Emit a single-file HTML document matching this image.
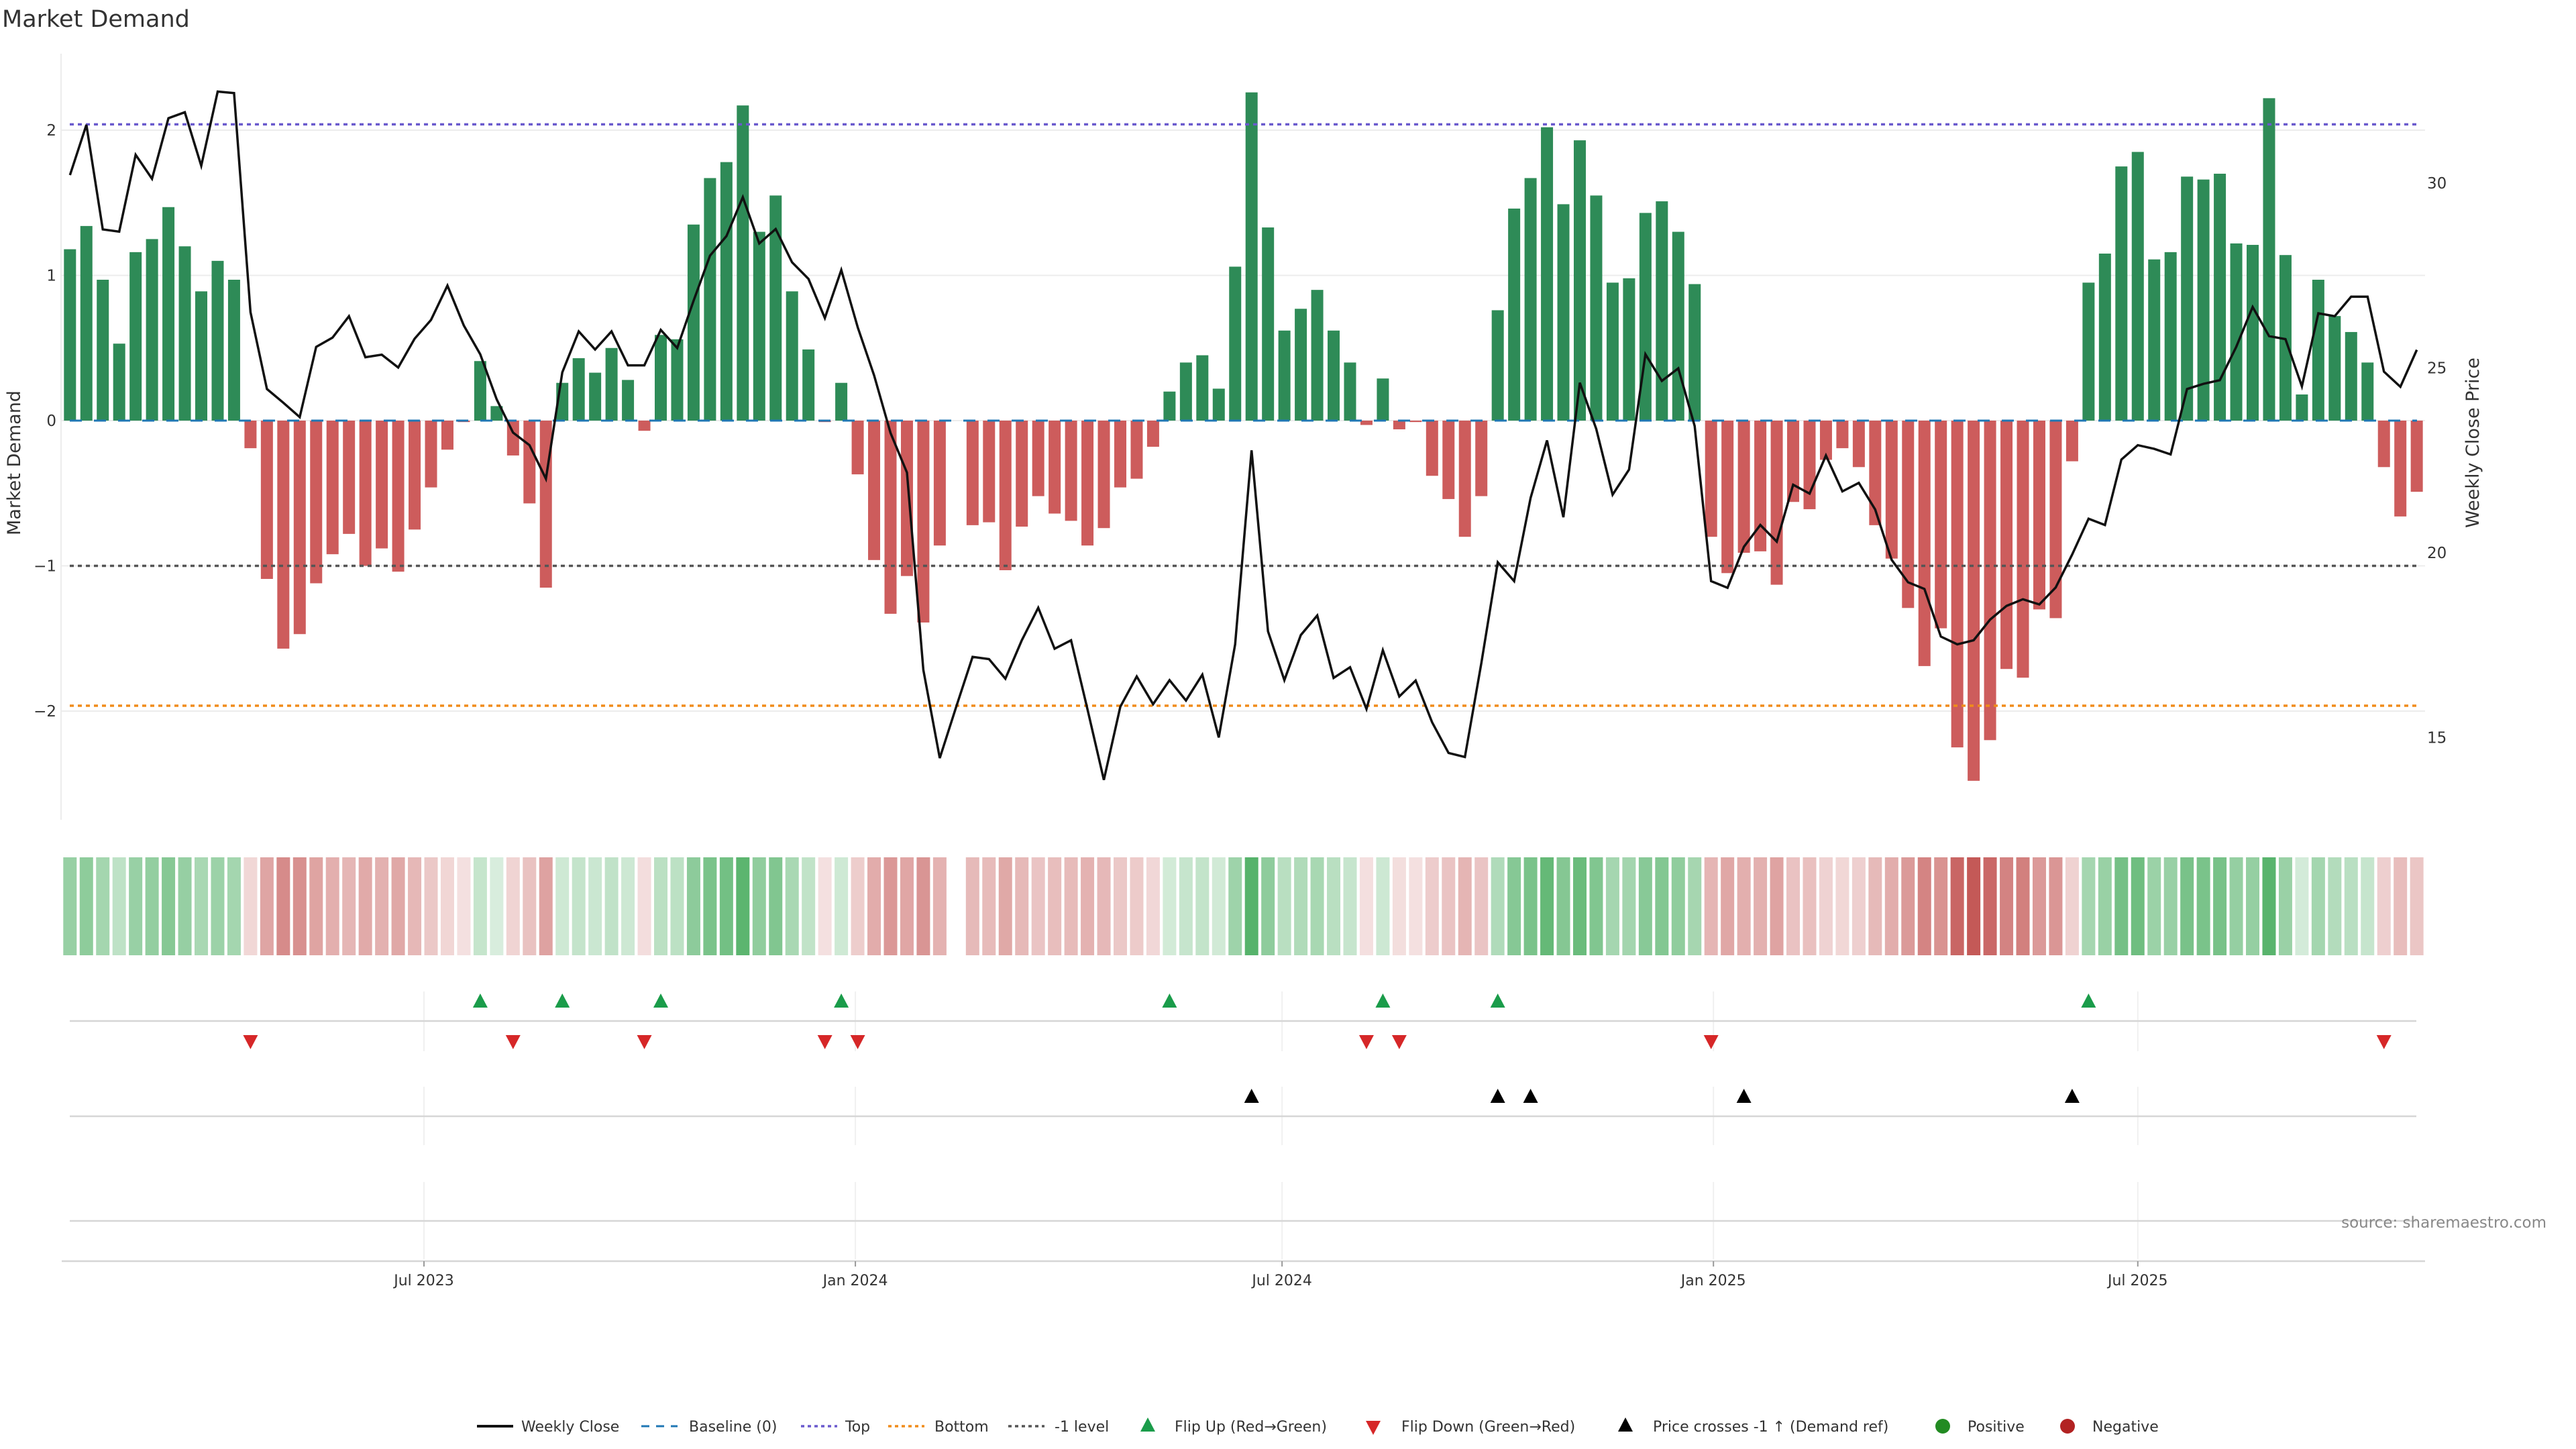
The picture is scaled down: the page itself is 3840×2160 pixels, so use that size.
<!DOCTYPE html>
<html><head><meta charset="utf-8"><title>Market Demand</title>
<style>
html,body{margin:0;padding:0;background:#fff;}
svg{display:block;font-family:"DejaVu Sans","Liberation Sans",sans-serif;}
</style></head>
<body>
<svg id="chart" width="3840" height="2160" viewBox="0 0 3840 2160" xmlns="http://www.w3.org/2000/svg">
<text x="3" y="40" font-size="35" fill="#333">Market Demand</text>
<g id="grid"></g>
<g id="bars"></g>
<g id="refs"></g>
<g id="price"></g>
<g id="heat"></g>
<g id="panels"></g>
<g id="axes"></g>
<text x="30" y="690" font-size="27" fill="#333" text-anchor="middle" transform="rotate(-90 30 690)">Market Demand</text>
<text x="3695" y="660" font-size="27" fill="#333" text-anchor="middle" transform="rotate(-90 3695 660)">Weekly Close Price</text>
<text x="3796" y="1830" font-size="23" fill="#888" text-anchor="end">source: sharemaestro.com</text>
<g id="legend"></g>
</svg>
<script>
const demand = [1.18,1.34,0.97,0.53,1.16,1.25,1.47,1.20,0.89,1.10,0.97,-0.19,-1.09,-1.57,-1.47,-1.12,-0.92,-0.78,-1.00,-0.88,-1.04,-0.75,-0.46,-0.20,-0.01,0.41,0.10,-0.24,-0.57,-1.15,0.26,0.43,0.33,0.50,0.28,-0.07,0.59,0.56,1.35,1.67,1.78,2.17,1.30,1.55,0.89,0.49,-0.01,0.26,-0.37,-0.96,-1.33,-1.07,-1.39,-0.86,null,-0.72,-0.70,-1.03,-0.73,-0.52,-0.64,-0.69,-0.86,-0.74,-0.46,-0.40,-0.18,0.20,0.40,0.45,0.22,1.06,2.26,1.33,0.62,0.77,0.90,0.62,0.40,-0.03,0.29,-0.06,-0.01,-0.38,-0.54,-0.80,-0.52,0.76,1.46,1.67,2.02,1.49,1.93,1.55,0.95,0.98,1.43,1.51,1.30,0.94,-0.80,-1.05,-0.91,-0.90,-1.13,-0.56,-0.61,-0.27,-0.19,-0.32,-0.72,-0.95,-1.29,-1.69,-1.43,-2.25,-2.48,-2.20,-1.71,-1.77,-1.30,-1.36,-0.28,0.95,1.15,1.75,1.85,1.11,1.16,1.68,1.66,1.70,1.22,1.21,2.22,1.14,0.18,0.97,0.72,0.61,0.40,-0.32,-0.66,-0.49];
const price = [30.22,31.58,28.75,28.69,30.77,30.12,31.76,31.92,30.47,32.48,32.44,26.51,24.43,24.06,23.67,25.57,25.82,26.40,25.29,25.36,25.01,25.79,26.30,27.23,26.15,25.37,24.15,23.25,22.91,22.00,24.88,25.99,25.50,25.99,25.07,25.07,26.03,25.54,26.82,28.04,28.57,29.62,28.37,28.76,27.86,27.41,26.35,27.65,26.10,24.80,23.24,22.17,16.83,14.44,15.83,17.18,17.12,16.59,17.63,18.51,17.40,17.63,15.76,13.85,15.83,16.65,15.90,16.55,16.00,16.70,15.00,17.52,22.77,17.87,16.55,17.77,18.30,16.61,16.90,15.77,17.36,16.11,16.54,15.41,14.58,14.47,17.01,19.74,19.23,21.48,23.04,20.96,24.60,23.35,21.57,22.25,25.37,24.65,24.99,23.43,19.23,19.05,20.16,20.75,20.30,21.84,21.60,22.63,21.66,21.89,21.17,19.81,19.20,19.02,17.73,17.52,17.63,18.19,18.56,18.74,18.60,19.06,19.95,20.92,20.75,22.52,22.91,22.81,22.66,24.43,24.57,24.67,25.57,26.65,25.86,25.78,24.50,26.48,26.40,26.93,26.93,24.90,24.49,25.49];
const flipUp = [25,30,36,47,67,80,87,123];
const flipDown = [11,27,35,46,48,79,81,100,141];
const priceCross = [72,87,89,102,122];
const refLevels = [2.04,-1.963,-1.0];
const leftTicks = [-2,-1,0,1,2];
const rightTicks = [15,20,25,30];
const dateTicks = ["2023-07-01","2024-01-01","2024-07-01","2025-01-01","2025-07-01"];
const dateLabels = ["Jul 2023","Jan 2024","Jul 2024","Jan 2025","Jul 2025"];
const startDate = "2023-01-31";

const NS="http://www.w3.org/2000/svg";
function mk(tag,attrs,parent){const e=document.createElementNS(NS,tag);for(const k in attrs)e.setAttribute(k,attrs[k]);parent.appendChild(e);return e;}
const X0=104.3, DX=24.464;
const xi=i=>X0+i*DX;
const yv=v=>627-v*216.5;
const yp=p=>548.5-(p-25)*55.08;
const xd=d=>X0+((new Date(d)-new Date(startDate))/86400000)/7*DX;
const G=id=>document.getElementById(id);

// grid
const grid=G('grid');
leftTicks.forEach(t=>{
  const l=mk('line',{x1:91,x2:3615,y1:yv(t),y2:yv(t),stroke:'#ececec','stroke-width':2},grid);
  
  
});
const sp=mk('line',{x1:91,x2:91,y1:80,y2:1222,stroke:'#ececec','stroke-width':2},grid);



// bars
const bars=G('bars');
demand.forEach((v,i)=>{
  if(v===null)return;
  const y=Math.min(yv(v),yv(0)), h=Math.abs(yv(v)-yv(0));
  const r=mk('rect',{x:xi(i)-9,y:y,width:18,height:Math.max(h,0.5),fill:v>=0?'#2e8b57':'#cd5c5c'},bars);
  
  
});

// reference lines
const refs=G('refs');
const b=mk('line',{x1:104,x2:3603,y1:yv(0),y2:yv(0),stroke:'#1f77b4','stroke-width':3,'stroke-dasharray':'18 18'},refs);


const refColors=['#6a5acd','#f08c1a','#555'];
const refNames=['top-line','bottom-line','minus-one-line'];
refLevels.forEach((v,k)=>{
  const l=mk('line',{x1:104,x2:3603,y1:yv(v),y2:yv(v),stroke:refColors[k],'stroke-width':3.5,'stroke-dasharray':'6 6'},refs);
  
  
});

// price line
const pts=price.map((p,i)=>xi(i).toFixed(1)+','+yp(p).toFixed(1)).join(' ');
const pl=mk('polyline',{points:pts,fill:'none',stroke:'#111','stroke-width':3.5,'stroke-linejoin':'miter'},G('price'));



// heatmap strip
const heat=G('heat');
demand.forEach((v,i)=>{
  if(v===null)return;
  const a=Math.min(1,0.18+0.82*Math.abs(v)/2.5);
  const base=v>=0?[72,172,94]:[196,88,86];
  const c=base.map(ch=>Math.round(255-(255-ch)*a));
  const r=mk('rect',{x:xi(i)-10,y:1278,width:20,height:146,fill:'rgb('+c.join(',')+')'},heat);
  
  
});

// lower panels
const pan=G('panels');
[[1478,1567],[1620,1707],[1762,1877]].forEach(([a,bb])=>{
  dateTicks.forEach(d=>{
    const l=mk('line',{x1:xd(d),x2:xd(d),y1:a,y2:bb,stroke:'#f0f0f0','stroke-width':2},pan);
    
    
  });
});
[1522,1664,1820].forEach(y=>{
  const l=mk('line',{x1:104,x2:3602,y1:y,y2:y,stroke:'#d6d6d6','stroke-width':2.5},pan);
  
  
});
function tri(x,y,up,col,name){
  const p=up?`${x},${y-13} ${x-11},${y+8} ${x+11},${y+8}`:`${x},${y+13} ${x-11},${y-8} ${x+11},${y-8}`;
  const t=mk('polygon',{points:p,fill:col},pan);
  
  
}
flipUp.forEach(i=>tri(xi(i),1494,true,'#1a9c4a','flip-up-marker'));
flipDown.forEach(i=>tri(xi(i),1551,false,'#d62728','flip-down-marker'));
priceCross.forEach(i=>tri(xi(i),1636,true,'#000','price-cross-marker'));

// axes
const ax=G('axes');
const bl=mk('line',{x1:92,x2:3615,y1:1880,y2:1880,stroke:'#d6d6d6','stroke-width':2.5},ax);


dateTicks.forEach((d,k)=>{
  const x=xd(d);
  const tk=mk('line',{x1:x,x2:x,y1:1880,y2:1888,stroke:'#999','stroke-width':2},ax);
  
  
  const t=mk('text',{x:x,y:1916,'font-size':22,fill:'#333','text-anchor':'middle'},ax);
  t.textContent=dateLabels[k];
  
  
});
leftTicks.forEach(v=>{
  const t=mk('text',{x:84,y:yv(v)+8,'font-size':23,fill:'#333','text-anchor':'end'},ax);
  t.textContent=v<0?'\u2212'+Math.abs(v):String(v);
  
  
});
rightTicks.forEach(v=>{
  const t=mk('text',{x:3618,y:yp(v)+8,'font-size':23,fill:'#333'},ax);
  t.textContent=String(v);
  
  
});

// legend
const lg=G('legend');
const LY=2126;
function ltext(x,s,name){const t=mk('text',{x:x,y:LY+8,'font-size':22,fill:'#333'},lg);t.textContent=s;}
function lline(x1,x2,col,dash,w,name){const l=mk('line',{x1:x1,x2:x2,y1:LY,y2:LY,stroke:col,'stroke-width':w,'stroke-dasharray':dash},lg);}
lline(711,765,'#111','none',4,'legend-weekly-close-swatch'); ltext(777,'Weekly Close','legend-weekly-close');
lline(956,1010,'#1f77b4','12 10',3,'legend-baseline-swatch'); ltext(1027,'Baseline (0)','legend-baseline');
lline(1194,1248,'#6a5acd','5 5',3.5,'legend-top-swatch'); ltext(1260,'Top','legend-top');
lline(1324,1378,'#f08c1a','5 5',3.5,'legend-bottom-swatch'); ltext(1393,'Bottom','legend-bottom');
lline(1503,1557,'#555','5 5',3.5,'legend-minus-one-swatch'); ltext(1572,'-1 level','legend-minus-one');
function ltri(x,up,col,name){const p=up?`${x},${LY-13} ${x-11},${LY+8} ${x+11},${LY+8}`:`${x},${LY+13} ${x-11},${LY-8} ${x+11},${LY-8}`;const t=mk('polygon',{points:p,fill:col},lg);}
ltri(1711,true,'#1a9c4a','legend-flip-up-swatch'); ltext(1751,'Flip Up (Red\u2192Green)','legend-flip-up');
ltri(2047,false,'#d62728','legend-flip-down-swatch'); ltext(2089,'Flip Down (Green\u2192Red)','legend-flip-down');
ltri(2423,true,'#000','legend-price-cross-swatch'); ltext(2464,'Price crosses -1 \u2191 (Demand ref)','legend-price-cross');
const c1=mk('circle',{cx:2896,cy:LY,r:11,fill:'#228b22'},lg);


ltext(2933,'Positive','legend-positive');
const c2=mk('circle',{cx:3082,cy:LY,r:11,fill:'#b22222'},lg);


ltext(3119,'Negative','legend-negative');
</script>
</body></html>
